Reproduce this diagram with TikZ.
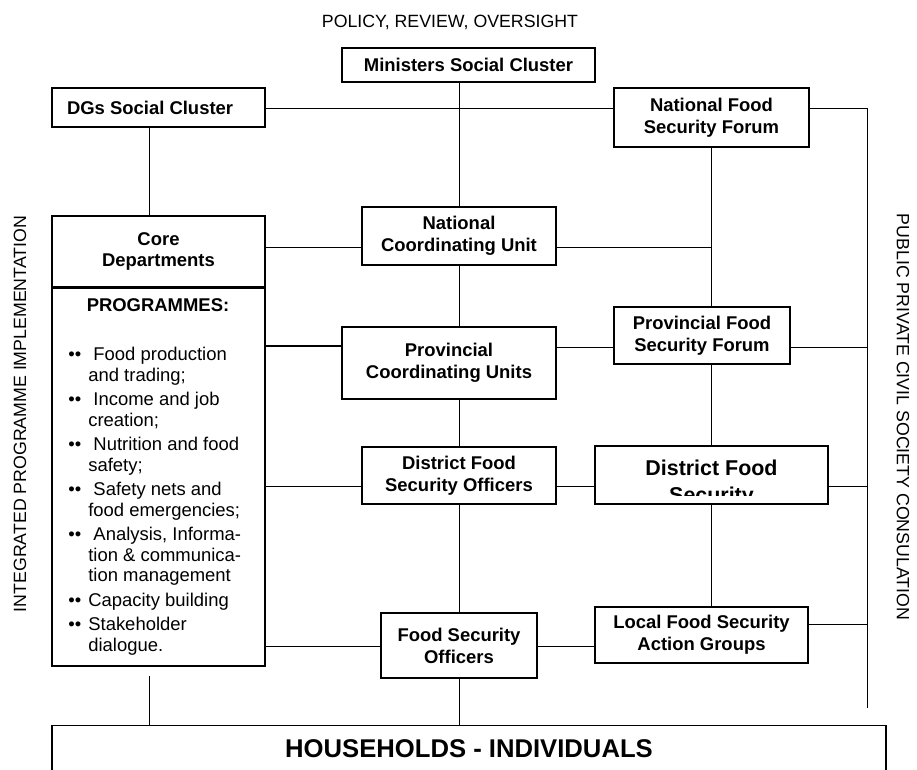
\documentclass[tikz,border=0pt]{standalone}
\usepackage{fontspec}
\setmainfont{Liberation Sans}
\usetikzlibrary{calc}
\newcommand{\bul}{\makebox[0.4cm][l]{••}}
\newcommand{\ind}{\hspace*{0.4cm}}

\begin{document}
\begin{tikzpicture}[x=0.02cm, y=-0.02cm,
 box/.style={draw, line width=0.7pt, inner sep=0, align=center, font=\fontsize{10.5}{12.4}\selectfont\bfseries},
 sz/.style 2 args={minimum width=#1*0.02cm, minimum height=#2*0.02cm},
 link/.style={line width=0.55pt},
 side/.style={inner sep=0, font=\fontsize{10.1}{12.4}\selectfont}]
\clip (0,0) rectangle (917,769);
\node[side] (policy) at (450,22) {POLICY, REVIEW, OVERSIGHT};
\node[side, rotate=90] (integ) at (20,414) {INTEGRATED PROGRAMME IMPLEMENTATION};
\node[side, rotate=-90] (ppcs) at (903,417) {PUBLIC PRIVATE CIVIL SOCIETY CONSULATION};

\node[box, sz={253}{34}] (mini) at (468.5,65) {Ministers Social Cluster};
\node[box, sz={213}{39}] (dgs) at (158.5,107.5) {DGs Social Cluster\hspace*{9.6pt}};
\node[box, sz={195}{59}] (nfsf) at (711.5,117.5) {National Food\\Security Forum};
\node[box, sz={213}{71}] (core) at (158.5,251.5) {Core\\Departments};
\node[box, sz={213}{379}] (prog) at (158.5,476.5) {};
\draw[line width=1.6pt] (core.south west) -- (core.south east);
\node[side, font=\fontsize{10.5}{12.4}\selectfont] (proghead) at (158,305) {\bfseries PROGRAMMES:};
\node[anchor=north west, inner sep=0, align=left, font=\fontsize{10.5}{11.7}\selectfont] (proglist) at (68,347) {%
\bul\ Food production\\
\ind and trading;\\[2.2pt]
\bul\ Income and job\\
\ind creation;\\[2.2pt]
\bul\ Nutrition and food\\
\ind safety;\\[2.2pt]
\bul\ Safety nets and\\
\ind food emergencies;\\[2.2pt]
\bul\ Analysis, Informa-\\
\ind tion \& communica-\\
\ind tion management\\[2.2pt]
\bul Capacity building\\[2.2pt]
\bul Stakeholder\\
\ind dialogue.};

\node[box, sz={194}{58}] (ncu) at (459,236) {National\\Coordinating Unit};
\node[box, sz={214}{72}] (pcu) at (449,363) {Provincial\\Coordinating Units};
\node[box, sz={176}{57}] (pfsf) at (702,335.5) {Provincial Food\\Security Forum};
\node[box, sz={194}{57}] (dfso) at (459,475.5) {District Food\\Security Officers};
\node[box, sz={233}{58}] (dfs) at (711.5,475) {};
\begin{scope}
\clip ($(dfs.south west)+(0,-9)$) rectangle (dfs.north east);
\node[inner sep=0, anchor=north, align=center, font=\fontsize{12.2}{15.4}\selectfont\bfseries] (dfstext) at (711.5,460) {District Food\\Security};
\end{scope}
\node[box, sz={156}{65}] (fso) at (459,645.5) {Food Security\\Officers};
\node[box, sz={213}{56}] (lfsag) at (701.5,635) {Local Food Security\\Action Groups};
\node[box, minimum width=834*0.02cm, anchor=north, text height=0.64cm, text depth=1.2cm, font=\fontsize{14.6}{16}\selectfont\bfseries] (hh) at (469,725) {HOUSEHOLDS - INDIVIDUALS};

\coordinate (lx) at (149,676);
\coordinate (rtop) at (867,108);
\coordinate (rend) at (867,708);

\draw[link] (mini.south -| ncu.north) -- (ncu.north);
\draw[link] (dgs.east |- rtop) -- (nfsf.west |- rtop);
\draw[link] (nfsf.east |- rtop) -- (rtop) -- (rend);
\draw[link] (dgs.south -| lx) -- (core.north -| lx);
\draw[link] (lx) -- (lx |- hh.north);
\foreach \y/\u/\v in {247/core/ncu, 486/prog/dfso, 646/prog/fso, 347/pcu/pfsf, 486/dfso/dfs, 646/fso/lfsag}
 \draw[link] (\u.east |- 0,\y) -- (\v.west |- 0,\y);
\draw[line width=1.3pt] (prog.east |- 0,346) -- (pcu.west |- 0,346);
\draw[link] (ncu.east |- 0,247) -- (nfsf.south |- 0,247);
\foreach \y/\u in {347/pfsf, 486/dfs, 624/lfsag}
 \draw[link] (\u.east |- 0,\y) -- (rtop |- 0,\y);
\draw[link] (nfsf.south) -- (nfsf.south |- pfsf.north);
\draw[link] (nfsf.south |- pfsf.south) -- (nfsf.south |- dfs.north);
\draw[link] (nfsf.south |- dfs.south) -- (nfsf.south |- lfsag.north);
\draw[link] (ncu.south) -- (ncu.south |- pcu.north);
\draw[link] (ncu.south |- pcu.south) -- (dfso.north);
\draw[link] (dfso.south) -- (fso.north);
\draw[link] (fso.south) -- (fso.south |- hh.north);
\end{tikzpicture}
\end{document}
